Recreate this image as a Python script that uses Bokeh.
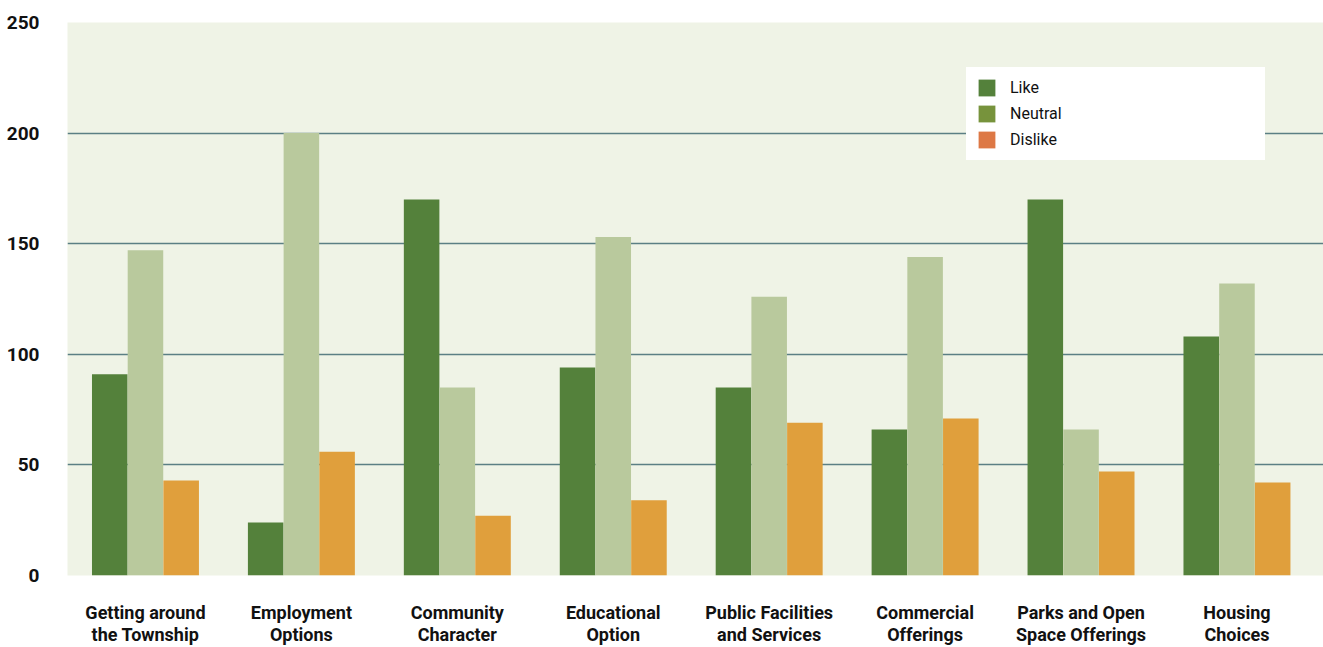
from bokeh.plotting import figure
from bokeh.models import ColumnDataSource, Range1d, FixedTicker, Legend, LegendItem
from bokeh.transform import dodge
from bokeh.embed import file_html
from bokeh.resources import INLINE

categories = ["Getting around\nthe Township", "Employment\nOptions", "Community\nCharacter",
              "Educational\nOption", "Public Facilities\nand Services", "Commercial\nOfferings",
              "Parks and Open\nSpace Offerings", "Housing\nChoices"]
like = [91, 24, 170, 94, 85, 66, 170, 108]
neutral = [147, 200, 85, 153, 126, 144, 66, 132]
dislike = [43, 56, 27, 34, 69, 71, 47, 42]
y_ticks = [0, 50, 100, 150, 200, 250]

series_names = ["Like", "Neutral", "Dislike"]
bar_colors = ["#54813b", "#b9c99d", "#e09f3c"]
legend_colors = ["#54813b", "#77933c", "#dd7845"]

xpos = [i + 0.5 for i in range(len(categories))]
src = ColumnDataSource(dict(x=xpos, like=like, neutral=neutral, dislike=dislike))

p = figure(width=1323, height=647, output_backend="svg", toolbar_location=None,
           x_range=Range1d(0, 8.055), y_range=Range1d(0, 250),
           min_border_left=67, min_border_right=0, min_border_top=22, min_border_bottom=71)
p.background_fill_color = "#eff3e6"
p.border_fill_color = "white"
p.outline_line_color = None

bw = 0.228
offs = [-0.229, 0.0, 0.229]
cols = ["like", "neutral", "dislike"]
for c, o, col in zip(cols, offs, bar_colors):
    p.vbar(x=dodge("x", o, range=p.x_range), top=c, width=bw, source=src,
           fill_color=col, line_color=None)

# legend proxies (legend swatch colours differ from the bars in the reference);
# zero-height bars, invisible in the plot
items = []
for name, col in zip(series_names, legend_colors):
    r = p.vbar(x=[xpos[0]], top=[0], width=bw, fill_color=col, line_color=None)
    items.append(LegendItem(label=name, renderers=[r]))
legend = Legend(items=items, location=(899, 415), padding=9, spacing=5,
                glyph_width=21, glyph_height=21, label_height=21, label_standoff=13,
                label_width=245, label_text_font="Roboto", label_text_font_size="16px",
                label_text_color="#111111", background_fill_color="white",
                background_fill_alpha=1.0, border_line_color="white", border_line_width=1,
                margin=0)
p.add_layout(legend, "center")

# grid
p.xgrid.visible = False
p.ygrid.ticker = FixedTicker(ticks=y_ticks)
p.ygrid.grid_line_color = "#5b7f84"
p.ygrid.grid_line_width = 1.5

# y axis
p.yaxis.ticker = FixedTicker(ticks=y_ticks)
p.yaxis.axis_line_color = None
p.yaxis.major_tick_line_color = None
p.yaxis.minor_tick_line_color = None
p.yaxis.major_label_standoff = 22
p.yaxis.major_label_text_font = "Roboto"
p.yaxis.major_label_text_font_style = "bold"
p.yaxis.major_label_text_font_size = "19px"
p.yaxis.major_label_text_color = "#111111"

# x axis
p.xaxis.ticker = FixedTicker(ticks=xpos)
p.xaxis.major_label_overrides = {x: lab for x, lab in zip(xpos, categories)}
p.xaxis.axis_line_color = None
p.xaxis.major_tick_line_color = None
p.xaxis.minor_tick_line_color = None
p.xaxis.major_label_standoff = 20
p.xaxis.major_label_text_font = "Roboto"
p.xaxis.major_label_text_font_style = "bold"
p.xaxis.major_label_text_font_size = "18px"
p.xaxis.major_label_text_color = "#111111"
p.xaxis.major_label_text_line_height = 1.05

open("out.html", "w").write(file_html(p, INLINE))
